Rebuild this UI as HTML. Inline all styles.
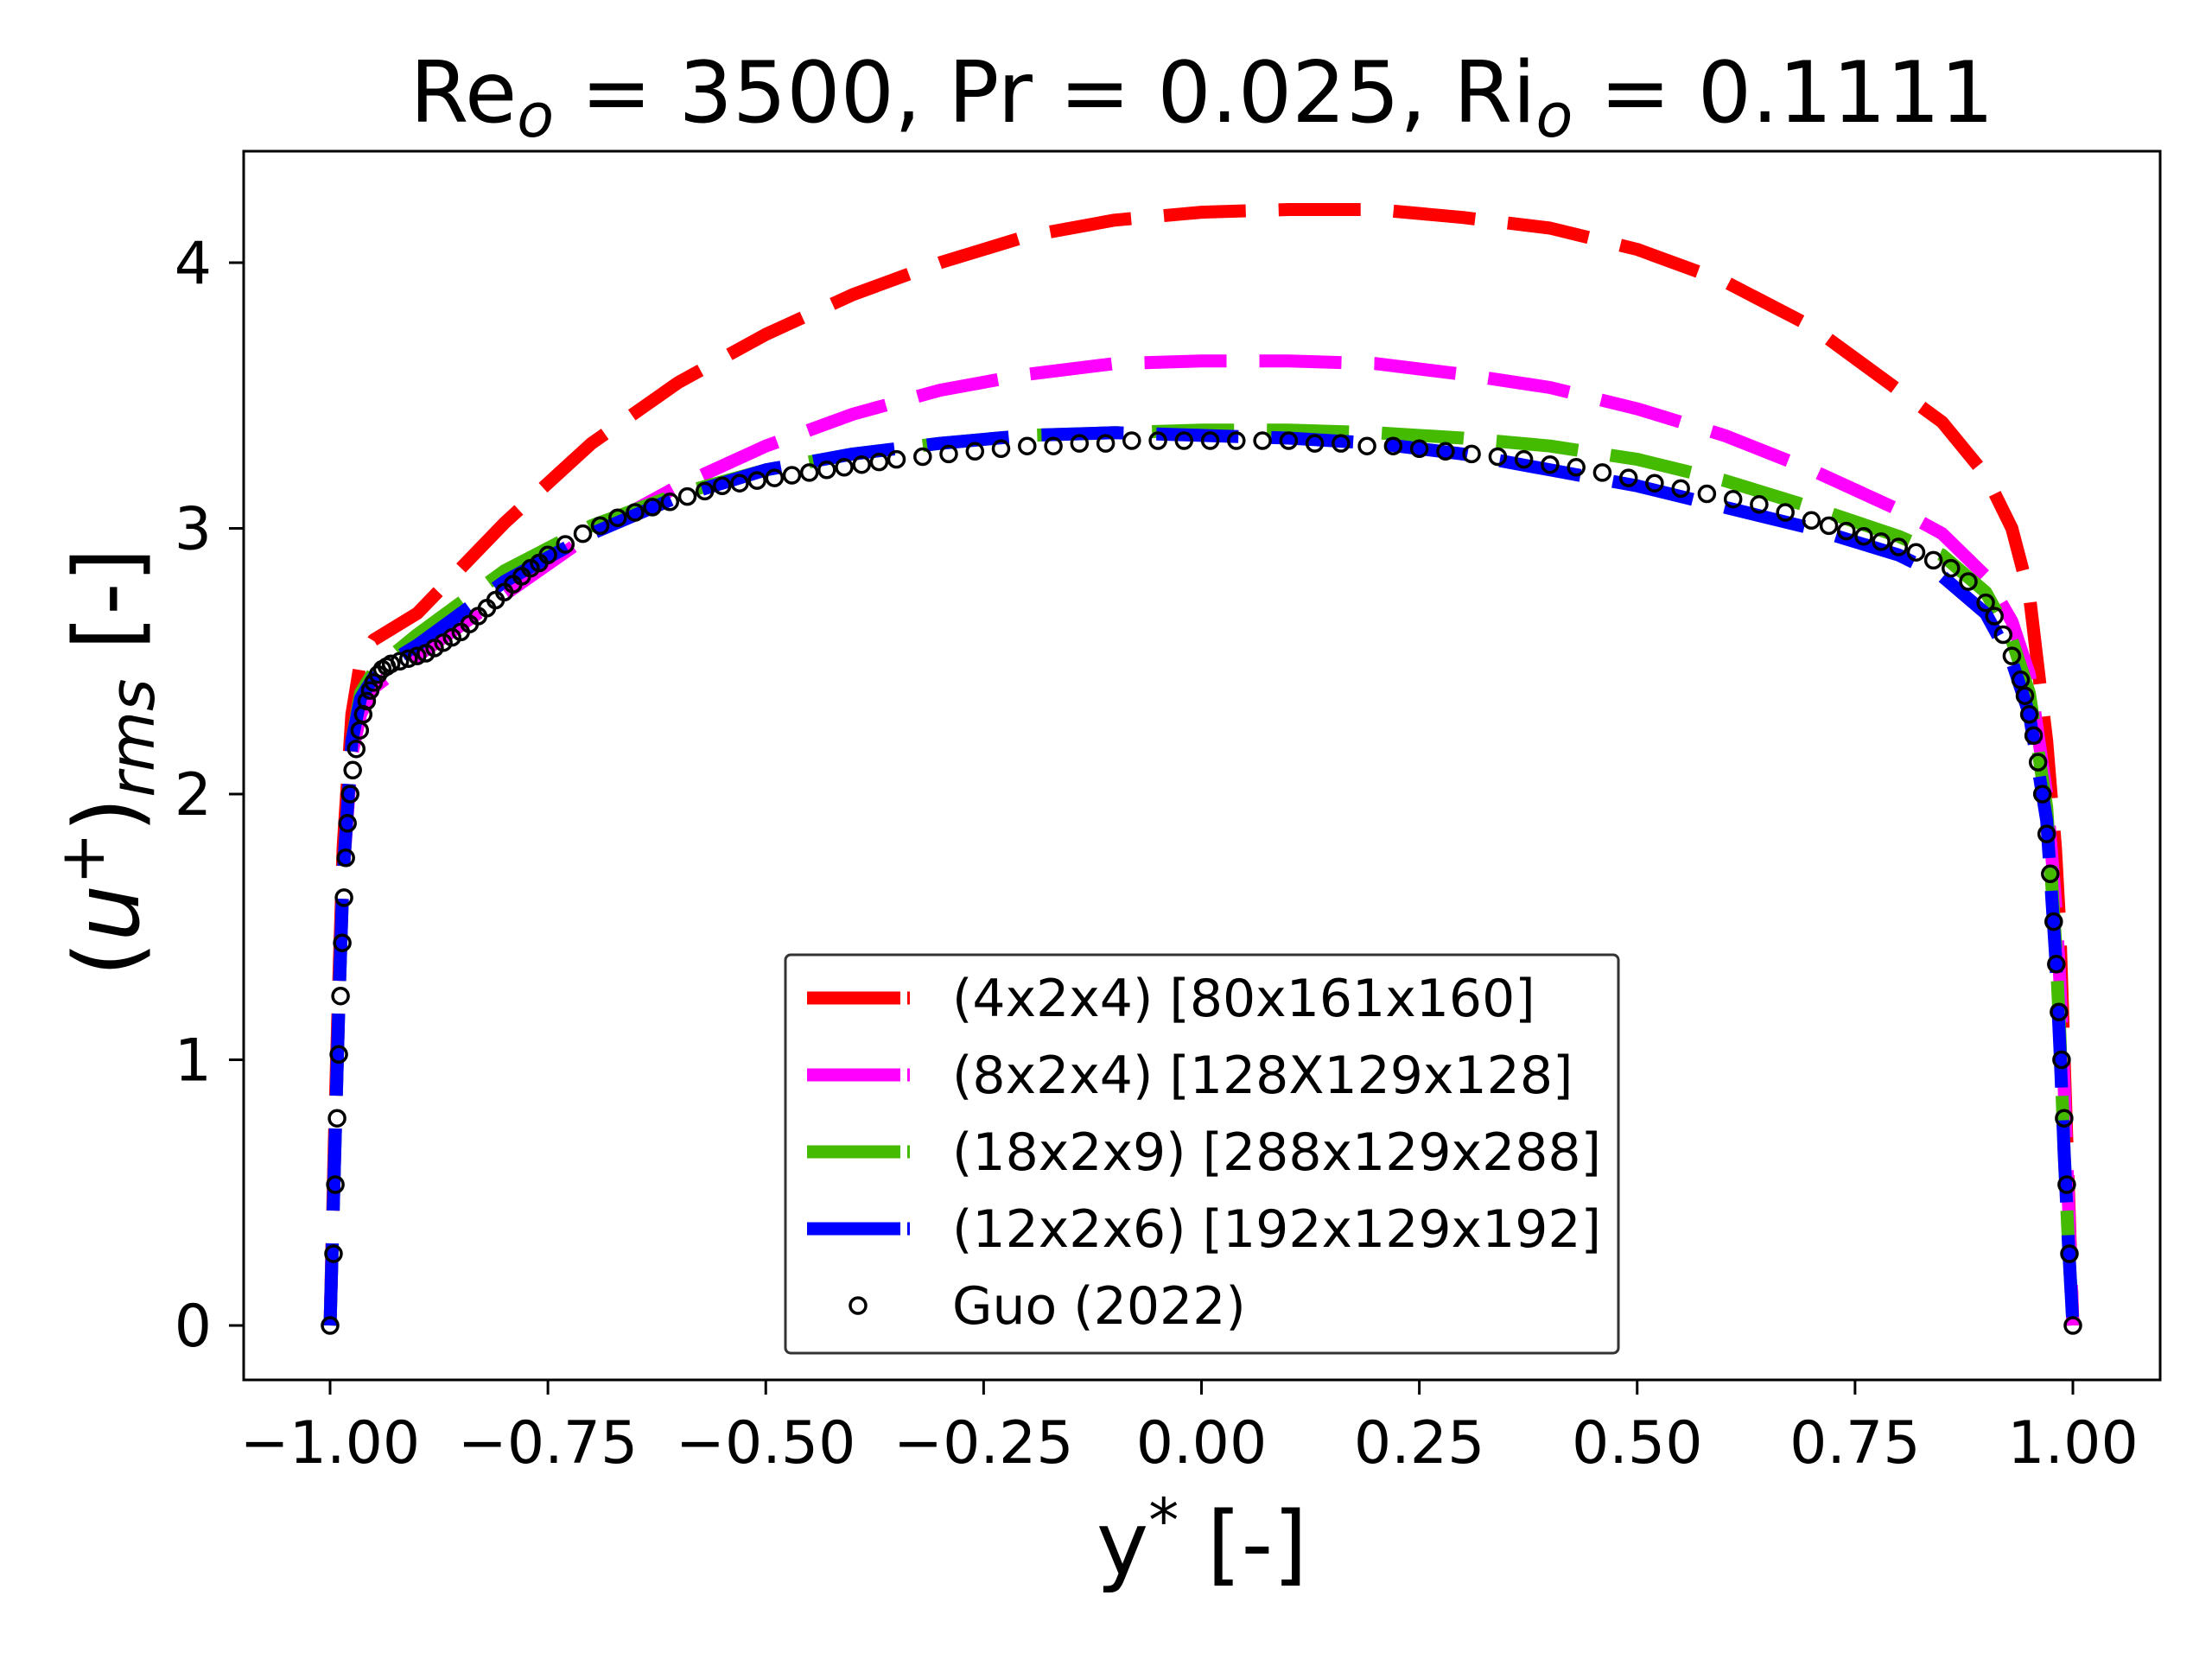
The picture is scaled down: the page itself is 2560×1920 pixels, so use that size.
<!DOCTYPE html>
<html><head><meta charset="utf-8"><style>
html,body{margin:0;padding:0;background:#fff}
svg{display:block}
text{font-family:"DejaVu Sans","Liberation Sans",sans-serif;fill:#000}
</style></head><body>
<svg id="chart" width="2560" height="1920" viewBox="0 0 2560 1920" xmlns="http://www.w3.org/2000/svg">
<rect x="0" y="0" width="2560" height="1920" fill="#fff"/>
<text x="1391" y="141" font-size="98" text-anchor="middle">Re<tspan font-style="italic" font-size="70" dy="17">o</tspan><tspan dy="-17"> = 3500, Pr = 0.025, Ri</tspan><tspan font-style="italic" font-size="70" dy="17">o</tspan><tspan dy="-17"> = 0.1111</tspan></text>
<g id="plot"></g>
<rect x="282" y="175" width="2218" height="1422" fill="none" stroke="#000" stroke-width="3"/>
<g id="ticks"></g>
<text x="1391" y="1822" font-size="102" text-anchor="middle">y<tspan font-size="70" dy="-38">*</tspan><tspan dy="38"> [-]</tspan></text>
<text transform="translate(160,882) rotate(-90)" font-size="104" text-anchor="middle">(<tspan font-style="italic">u</tspan><tspan font-size="72" dy="-40">+</tspan><tspan dy="40">)</tspan><tspan font-style="italic" font-size="72" dy="18">rms</tspan><tspan dy="-18"> [-]</tspan></text>
<g id="legend"></g>
</svg>
<script>
const xTicks=[-1,-0.75,-0.5,-0.25,0,0.25,0.5,0.75,1];
const xTickLabels=["\u22121.00","\u22120.75","\u22120.50","\u22120.25","0.00","0.25","0.50","0.75","1.00"];
const yTicks=[0,1,2,3,4];
const yTickLabels=["0","1","2","3","4"];
const seriesNames=["(4x2x4) [80x161x160]","(8x2x4) [128X129x128]","(18x2x9) [288x129x288]","(12x2x6) [192x129x192]","Guo (2022)"];
const redX=[-1,-0.995,-0.99,-0.985,-0.975,-0.965,-0.95,-0.9,-0.8,-0.7,-0.6,-0.5,-0.4,-0.3,-0.2,-0.1,0,0.1,0.2,0.3,0.4,0.5,0.6,0.7,0.8,0.85,0.9,0.93,0.95,0.97,0.98,0.985,0.99,0.995,1];
const redY=[0,0.7,1.3,1.8,2.3,2.5,2.58,2.68,3.02,3.32,3.55,3.73,3.88,4.0,4.1,4.16,4.19,4.2,4.2,4.17,4.13,4.05,3.93,3.76,3.52,3.4,3.2,3.0,2.75,2.2,1.8,1.5,1.0,0.5,0];
const magX=[-1,-0.995,-0.99,-0.985,-0.975,-0.965,-0.95,-0.93,-0.9,-0.8,-0.7,-0.6,-0.5,-0.4,-0.3,-0.2,-0.1,0,0.1,0.2,0.3,0.4,0.5,0.6,0.7,0.8,0.85,0.9,0.93,0.95,0.97,0.98,0.985,0.99,0.995,1];
const magY=[0,0.6,1.2,1.7,2.15,2.3,2.4,2.45,2.52,2.75,2.98,3.16,3.31,3.43,3.52,3.58,3.62,3.63,3.63,3.62,3.58,3.53,3.45,3.35,3.22,3.07,2.98,2.82,2.65,2.45,2.0,1.6,1.3,0.9,0.45,0];
const greenX=[-1,-0.995,-0.99,-0.985,-0.975,-0.965,-0.95,-0.93,-0.9,-0.8,-0.7,-0.6,-0.5,-0.4,-0.3,-0.2,-0.1,0,0.1,0.2,0.3,0.4,0.5,0.6,0.7,0.8,0.85,0.9,0.93,0.95,0.97,0.98,0.985,0.99,0.995,1];
const greenY=[0,0.6,1.2,1.7,2.2,2.38,2.46,2.52,2.6,2.84,3.01,3.13,3.22,3.28,3.32,3.35,3.36,3.37,3.37,3.36,3.34,3.31,3.26,3.18,3.08,2.97,2.9,2.76,2.58,2.38,1.95,1.45,1.1,0.65,0.3,0];
const blueX=[-1,-0.995,-0.99,-0.985,-0.975,-0.965,-0.95,-0.93,-0.9,-0.8,-0.7,-0.6,-0.5,-0.4,-0.3,-0.2,-0.1,0,0.1,0.2,0.3,0.4,0.5,0.6,0.7,0.8,0.85,0.9,0.93,0.95,0.97,0.98,0.985,0.99,0.995,1];
const blueY=[0,0.6,1.2,1.7,2.2,2.36,2.44,2.5,2.56,2.8,2.98,3.12,3.22,3.28,3.32,3.35,3.36,3.35,3.34,3.32,3.28,3.22,3.16,3.08,3.0,2.9,2.82,2.68,2.5,2.3,1.9,1.4,1.05,0.65,0.3,0];
const guoX=[-1,-0.996,-0.994,-0.992,-0.99,-0.988,-0.986,-0.984,-0.982,-0.98,
-0.977,-0.974,-0.97,-0.966,-0.962,-0.958,-0.954,-0.95,-0.945,-0.94,
-0.935,-0.93,-0.92,-0.91,-0.9,-0.89,-0.88,-0.87,-0.86,-0.85,
-0.84,-0.83,-0.82,-0.81,-0.8,-0.79,-0.78,-0.77,-0.76,-0.75,
-0.73,-0.71,-0.69,-0.67,-0.65,-0.63,-0.61,-0.59,-0.57,-0.55,
-0.53,-0.51,-0.49,-0.47,-0.45,-0.43,-0.41,-0.39,-0.37,-0.35,
-0.32,-0.29,-0.26,-0.23,-0.2,-0.17,-0.14,-0.11,-0.08,-0.05,
-0.02,0.01,0.04,0.07,0.1,0.13,0.16,0.19,0.22,0.25,
0.28,0.31,0.34,0.37,0.4,0.43,0.46,0.49,0.52,0.55,
0.58,0.61,0.64,0.67,0.7,0.72,0.74,0.76,0.78,0.8,
0.82,0.84,0.86,0.88,0.9,0.91,0.92,0.93,0.94,0.945,
0.95,0.955,0.96,0.965,0.97,0.974,0.978,0.981,0.984,0.987,
0.99,0.993,0.996,1];
const guoY=[0,0.27,0.53,0.78,1.02,1.24,1.44,1.61,1.76,1.89,
2.0,2.09,2.17,2.24,2.3,2.35,2.39,2.42,2.45,2.47,
2.48,2.49,2.5,2.51,2.52,2.53,2.55,2.57,2.59,2.61,
2.64,2.67,2.7,2.73,2.76,2.79,2.82,2.85,2.87,2.9,
2.94,2.98,3.01,3.04,3.06,3.08,3.1,3.12,3.14,3.16,
3.17,3.18,3.19,3.2,3.21,3.22,3.23,3.24,3.25,3.26,
3.27,3.28,3.29,3.3,3.31,3.31,3.32,3.32,3.33,3.33,
3.33,3.33,3.33,3.33,3.33,3.32,3.32,3.31,3.31,3.3,
3.29,3.28,3.27,3.26,3.24,3.23,3.21,3.19,3.17,3.15,
3.13,3.11,3.09,3.06,3.03,3.01,2.99,2.97,2.95,2.93,
2.91,2.88,2.85,2.8,2.72,2.67,2.6,2.52,2.43,2.37,
2.3,2.22,2.12,2.0,1.85,1.7,1.52,1.36,1.18,1.0,
0.78,0.53,0.27,0];
const NS="http://www.w3.org/2000/svg";
const X0=382,X1=2399,Y0=1534,Y4=304;
function sx(v){return X0+(v+1)/2*(X1-X0);}
function sy(v){return Y0+v/4*(Y4-Y0);}
const plot=document.getElementById('plot');
function line(xs,ys,color,name){
  const p=document.createElementNS(NS,'polyline');
  p.setAttribute('points',xs.map((x,i)=>sx(x).toFixed(1)+','+sy(ys[i]).toFixed(1)).join(' '));
  p.setAttribute('fill','none');p.setAttribute('stroke',color);p.setAttribute('stroke-width','15');
  p.setAttribute('stroke-dasharray','95 38');p.setAttribute('stroke-linejoin','round');
  
  
  plot.appendChild(p);
}
line(redX,redY,'#ff0000','series-4x2x4');
line(magX,magY,'#ff00ff','series-8x2x4');
line(greenX,greenY,'#44bb00','series-18x2x9');
line(blueX,blueY,'#0000ff','series-12x2x6');
const nG=Math.min(guoX.length,guoY.length);
for(let i=0;i<nG;i++){
  const c=document.createElementNS(NS,'circle');
  c.setAttribute('cx',sx(guoX[i]).toFixed(1));c.setAttribute('cy',sy(guoY[i]).toFixed(1));
  c.setAttribute('r','9');c.setAttribute('fill','none');c.setAttribute('stroke','#000');c.setAttribute('stroke-width','3.5');
  
  
  plot.appendChild(c);
}
const tk=document.getElementById('ticks');
xTicks.forEach((v,i)=>{
  const l=document.createElementNS(NS,'line');
  l.setAttribute('x1',sx(v));l.setAttribute('x2',sx(v));l.setAttribute('y1',1597);l.setAttribute('y2',1614);
  l.setAttribute('stroke','#000');l.setAttribute('stroke-width','3');
  
  
  tk.appendChild(l);
  const t=document.createElementNS(NS,'text');
  t.setAttribute('x',sx(v));t.setAttribute('y',1693);t.setAttribute('font-size','68');t.setAttribute('text-anchor','middle');
  t.textContent=xTickLabels[i];
  
  
  tk.appendChild(t);
});
yTicks.forEach((v,i)=>{
  const l=document.createElementNS(NS,'line');
  l.setAttribute('x1',265);l.setAttribute('x2',282);l.setAttribute('y1',sy(v));l.setAttribute('y2',sy(v));
  l.setAttribute('stroke','#000');l.setAttribute('stroke-width','3');
  
  
  tk.appendChild(l);
  const t=document.createElementNS(NS,'text');
  t.setAttribute('x',245);t.setAttribute('y',sy(v)+24);t.setAttribute('font-size','68');t.setAttribute('text-anchor','end');
  t.textContent=yTickLabels[i];
  
  
  tk.appendChild(t);
});
const lg=document.getElementById('legend');
const box=document.createElementNS(NS,'rect');
box.setAttribute('x',909);box.setAttribute('y',1105);box.setAttribute('width',964);box.setAttribute('height',461);
box.setAttribute('rx',6);box.setAttribute('fill','#fff');box.setAttribute('fill-opacity','0.8');box.setAttribute('stroke','#333');box.setAttribute('stroke-width','3');


lg.appendChild(box);
const lcol=['#ff0000','#ff00ff','#44bb00','#0000ff',null];
seriesNames.forEach((n,i)=>{
  const y=1155+i*89;
  if(lcol[i]){
    const l=document.createElementNS(NS,'line');
    l.setAttribute('x1',934);l.setAttribute('x2',1053);l.setAttribute('y1',y);l.setAttribute('y2',y);
    l.setAttribute('stroke',lcol[i]);l.setAttribute('stroke-width','15');l.setAttribute('stroke-dasharray','108 8');
    
    
    lg.appendChild(l);
  } else {
    const c=document.createElementNS(NS,'circle');
    c.setAttribute('cx',993);c.setAttribute('cy',y);c.setAttribute('r',9);c.setAttribute('fill','none');c.setAttribute('stroke','#000');c.setAttribute('stroke-width','3.5');
    
    
    lg.appendChild(c);
  }
  const t=document.createElementNS(NS,'text');
  t.setAttribute('x',1102);t.setAttribute('y',y+21);t.setAttribute('font-size','60');
  t.textContent=n;
  
  
  lg.appendChild(t);
});
</script>
</body></html>
